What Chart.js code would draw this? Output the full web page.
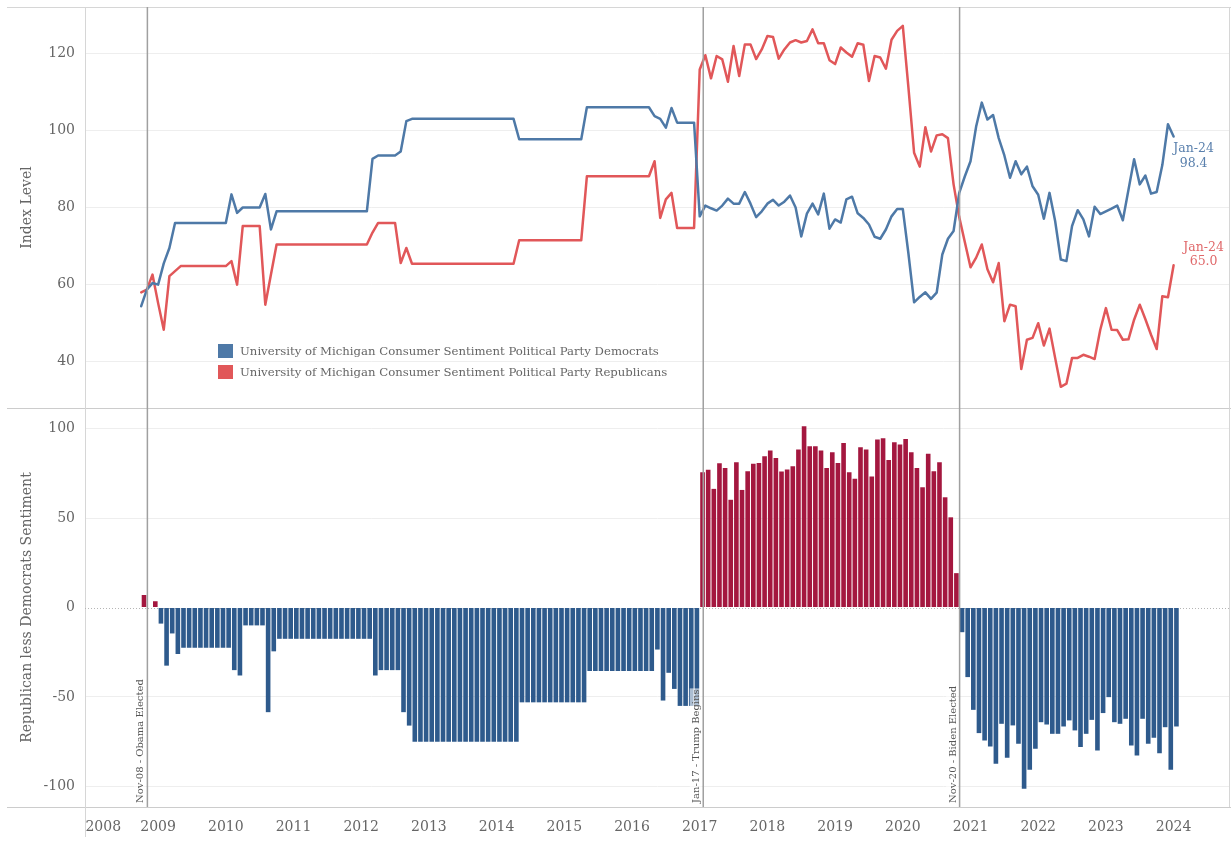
<!DOCTYPE html>
<html>
<head>
<meta charset="utf-8">
<title>Consumer Sentiment by Political Party</title>
<script src="https://cdn.jsdelivr.net/npm/chart.js@4.4.1/dist/chart.umd.min.js"></script>
<style>
  html, body { margin: 0; padding: 0; background: #fff; }
  #wrap { position: relative; width: 1231px; height: 841px; overflow: hidden; }
  #wrap canvas { position: absolute; left: 0; }
  #topChart { top: 0; }
  #bottomChart { top: 400px; }
</style>
</head>
<body>
<div id="wrap">
  <canvas id="topChart" width="1231" height="420"></canvas>
  <canvas id="bottomChart" width="1231" height="441"></canvas>
</div>
<script>
// Monthly series, first month is Oct-08, last month is Jan-24
var firstYear = 2008;
var firstMonth = 10;

// University of Michigan sentiment, Democrats (index level)
var democrats = [
  54.4, 58.7, 60.4, // 2008 Oct-Dec
  60, 65.5, 69.5, 76, 76, 76, 76, 76, 76, 76, 76, 76, // 2009
  76, 83.4, 78.6, 80, 80, 80, 80, 83.5, 74.3, 79, 79, 79, // 2010
  79, 79, 79, 79, 79, 79, 79, 79, 79, 79, 79, 79, // 2011
  79, 79, 92.6, 93.5, 93.5, 93.5, 93.5, 94.5, 102.4, 103, 103, 103, // 2012
  103, 103, 103, 103, 103, 103, 103, 103, 103, 103, 103, 103, // 2013
  103, 103, 103, 103, 97.7, 97.7, 97.7, 97.7, 97.7, 97.7, 97.7, 97.7, // 2014
  97.7, 97.7, 97.7, 97.7, 106, 106, 106, 106, 106, 106, 106, 106, // 2015
  106, 106, 106, 106, 103.7, 103, 100.7, 105.8, 102, 102, 102, 102, // 2016
  77.7, 80.5, 79.8, 79.2, 80.5, 82.3, 81, 81, 84, 81, 77.5, 79, // 2017
  81, 82, 80.5, 81.5, 83.1, 80, 72.5, 78.4, 81, 78.2, 83.6, 74.5, // 2018
  76.9, 76.1, 82.1, 82.8, 78.5, 77.3, 75.6, 72.4, 71.9, 74.3, 77.7, 79.6, // 2019
  79.6, 68, 55.4, 56.8, 58, 56.3, 57.9, 67.8, 71.9, 73.9, 83.8, 88.1, // 2020
  92, 101, 107.2, 102.8, 104, 98, 93.5, 87.7, 92, 88.6, 90.6, 85.5, // 2021
  83.3, 77.1, 83.8, 76.5, 66.5, 66.1, 75.2, 79.3, 76.9, 72.5, 80.2, 78.3, // 2022
  79, 79.7, 80.5, 76.7, 84.6, 92.5, 86, 88.3, 83.6, 84, 91, 101.6, // 2023
  98.4 // 2024 Jan
];

// University of Michigan sentiment, Republicans (index level)
var republicans = [
  58, 58.7, 62.6, // 2008 Oct-Dec
  55.2, 48.3, 62.2, 63.5, 64.8, 64.8, 64.8, 64.8, 64.8, 64.8, 64.8, 64.8, // 2009
  64.8, 66.1, 60, 75.2, 75.2, 75.2, 75.2, 54.8, 62.6, 70.4, 70.4, 70.4, // 2010
  70.4, 70.4, 70.4, 70.4, 70.4, 70.4, 70.4, 70.4, 70.4, 70.4, 70.4, 70.4, // 2011
  70.4, 70.4, 73.5, 76, 76, 76, 76, 65.6, 69.5, 65.4, 65.4, 65.4, // 2012
  65.4, 65.4, 65.4, 65.4, 65.4, 65.4, 65.4, 65.4, 65.4, 65.4, 65.4, 65.4, // 2013
  65.4, 65.4, 65.4, 65.4, 71.5, 71.5, 71.5, 71.5, 71.5, 71.5, 71.5, 71.5, // 2014
  71.5, 71.5, 71.5, 71.5, 88.1, 88.1, 88.1, 88.1, 88.1, 88.1, 88.1, 88.1, // 2015
  88.1, 88.1, 88.1, 88.1, 92, 77.3, 82.1, 83.8, 74.7, 74.7, 74.7, 74.7, // 2016
  115.8, 119.5, 113.5, 119.3, 118.4, 112.6, 121.9, 114.1, 122.3, 122.3, 118.5, 121, // 2017
  124.5, 124.2, 118.6, 121, 122.8, 123.4, 122.8, 123.2, 126.2, 122.6, 122.6, 118.2, // 2018
  117.2, 121.5, 120.2, 119.1, 122.6, 122.2, 112.8, 119.3, 118.9, 116, 123.5, 125.8, // 2019
  127.1, 111, 94.2, 90.6, 100.8, 94.5, 98.7, 99, 98, 86, 77.5, 71, // 2020
  64.5, 67, 70.4, 64, 60.6, 65.6, 50.5, 54.8, 54.4, 38.1, 45.7, 46.2, // 2021
  50, 44.2, 48.6, 41, 33.5, 34.3, 41, 41, 41.8, 41.3, 40.7, 48.3, // 2022
  53.9, 48.3, 48.2, 45.7, 45.8, 50.9, 54.8, 51, 47, 43.3, 57, 56.7, // 2023
  65 // 2024 Jan
];

// Republican less Democrats sentiment (bars)
var spread = [
  7, 0, 3.5, // 2008 Oct-Dec
  -9, -32.5, -14.5, -26, -22.5, -22.5, -22.5, -22.5, -22.5, -22.5, -22.5, -22.5, // 2009
  -22.5, -35, -38, -10, -10, -10, -10, -58.5, -24.5, -17.5, -17.5, -17.5, // 2010
  -17.5, -17.5, -17.5, -17.5, -17.5, -17.5, -17.5, -17.5, -17.5, -17.5, -17.5, -17.5, // 2011
  -17.5, -17.5, -38, -35, -35, -35, -35, -58.5, -66, -75, -75, -75, // 2012
  -75, -75, -75, -75, -75, -75, -75, -75, -75, -75, -75, -75, // 2013
  -75, -75, -75, -75, -53, -53, -53, -53, -53, -53, -53, -53, // 2014
  -53, -53, -53, -53, -35.5, -35.5, -35.5, -35.5, -35.5, -35.5, -35.5, -35.5, // 2015
  -35.5, -35.5, -35.5, -35.5, -23.5, -52, -36.5, -45.5, -55, -55, -55, -55, // 2016
  75.6, 77, 66.3, 80.6, 78, 60.2, 81.2, 65.7, 76.2, 80.3, 80.8, 84.5, // 2017
  87.7, 83.6, 76, 77.1, 78.9, 88.3, 101.3, 90.1, 90.1, 87.7, 78, 86.8, // 2018
  80.8, 92, 75.6, 71.9, 89.6, 88.3, 73.2, 93.9, 94.6, 82.5, 92.4, 91.1, // 2019
  94.2, 86.8, 78, 67.2, 85.9, 76.2, 81.2, 61.6, 50.4, 19.2, -13.8, -38.9, // 2020
  -57.2, -70.2, -74.3, -77.7, -87.3, -65, -84, -65.9, -76.2, -101.3, -90.7, -78.9, // 2021
  -64.1, -65.4, -70.6, -70.6, -66.5, -63.1, -68.7, -78, -70.6, -62.8, -79.9, -59, // 2022
  -50.1, -64.1, -65, -62.2, -77.1, -82.7, -62.2, -76.2, -72.8, -81.4, -66.9, -90.7, // 2023
  -66.5 // 2024 Jan
];

var yearTicks = [2008, 2009, 2010, 2011, 2012, 2013, 2014, 2015, 2016, 2017, 2018, 2019, 2020, 2021, 2022, 2023, 2024];
var eventDates = ['2008-11-04', '2017-01-20', '2020-11-03'];
var eventLabels = ['Nov-08 - Obama Elected', 'Jan-17 - Trump Begins', 'Nov-20 - Biden Elected'];
var seriesNames = [
  'University of Michigan Consumer Sentiment Political Party Democrats',
  'University of Michigan Consumer Sentiment Political Party Republicans'
];
var monthNames = ['Jan', 'Feb', 'Mar', 'Apr', 'May', 'Jun', 'Jul', 'Aug', 'Sep', 'Oct', 'Nov', 'Dec'];

// colours (Tableau look)
var blueLine = '#4e79a7';
var redLine = '#e15759';
var blueBar = '#2e5a8c';
var redBar = '#a4173f';
var textGrey = '#666666';
var frameGrey = '#d6d6d6';
var eventGrey = '#a0a0a0';
var fontFamily = "'DejaVu Serif', serif";

// shared x range in fractional years
var xMin = 2007.92;
var xMax = 2024.833;

Chart.defaults.font.family = fontFamily;
Chart.defaults.color = textGrey;

function monthTime(i) {
  return firstYear + (firstMonth - 1 + i) / 12;
}

function dateTime(s) {
  var p = s.split('-');
  var y = +p[0];
  var start = Date.UTC(y, 0, 1);
  var end = Date.UTC(y + 1, 0, 1);
  return y + (Date.UTC(y, +p[1] - 1, +p[2]) - start) / (end - start);
}

function monthLabel(i) {
  var m = firstMonth - 1 + i;
  return monthNames[m % 12] + '-' + String(firstYear + Math.floor(m / 12)).slice(2);
}

function hLine(ctx, y, x1, x2, color) {
  ctx.beginPath();
  ctx.strokeStyle = color;
  ctx.lineWidth = 1;
  ctx.moveTo(x1, Math.round(y) + 0.5);
  ctx.lineTo(x2, Math.round(y) + 0.5);
  ctx.stroke();
}

function vLine(ctx, x, y1, y2, color, width) {
  ctx.beginPath();
  ctx.strokeStyle = color;
  ctx.lineWidth = width || 1;
  ctx.moveTo(x, y1);
  ctx.lineTo(x, y2);
  ctx.stroke();
}

// the vertical axis keeps exactly the reference width and no label overhang
function fixVertical(s) {
  s.width = 85;
  s.paddingTop = 0;
  s.paddingBottom = 0;
}

function drawEvents(chart, withLabels) {
  var ctx = chart.ctx;
  var area = chart.chartArea;
  var xs = chart.scales.x;
  ctx.save();
  eventDates.forEach(function (d, i) {
    var x = xs.getPixelForValue(dateTime(d));
    vLine(ctx, x, area.top, area.bottom, eventGrey, 1.5);
    if (!withLabels) return;
    ctx.save();
    ctx.font = '10px ' + fontFamily;
    var w = ctx.measureText(eventLabels[i]).width;
    ctx.translate(x - 1.5, area.bottom - 4);
    ctx.rotate(-Math.PI / 2);
    ctx.fillStyle = 'rgba(255,255,255,0.6)';
    ctx.fillRect(-1, -12, w + 2, 12);
    ctx.fillStyle = '#555555';
    ctx.textAlign = 'left';
    ctx.textBaseline = 'bottom';
    ctx.fillText(eventLabels[i], 0, 0);
    ctx.restore();
  });
  ctx.restore();
}

// frame, legend, end labels and events for the index panel
var topDecor = {
  id: 'topDecor',
  beforeDatasetsDraw: function (chart) {
    var ctx = chart.ctx;
    var a = chart.chartArea;
    ctx.save();
    hLine(ctx, a.top, 7, chart.width, frameGrey);
    hLine(ctx, a.bottom, 7, chart.width, '#cccccc');
    vLine(ctx, Math.round(a.left) + 0.5, a.top, a.bottom, frameGrey);
    vLine(ctx, Math.round(a.right) - 0.5, a.top, a.bottom, frameGrey);
    ctx.restore();
  },
  afterDatasetsDraw: function (chart) {
    var ctx = chart.ctx;
    var a = chart.chartArea;
    drawEvents(chart, false);
    ctx.save();
    // legend
    ctx.fillStyle = blueLine;
    ctx.fillRect(a.left + 133, a.top + 337, 15, 14);
    ctx.fillStyle = redLine;
    ctx.fillRect(a.left + 133, a.top + 358, 15, 14);
    ctx.font = '11.7px ' + fontFamily;
    ctx.fillStyle = textGrey;
    ctx.textAlign = 'left';
    ctx.textBaseline = 'middle';
    ctx.fillText(seriesNames[0], a.left + 155, a.top + 344.5);
    ctx.fillText(seriesNames[1], a.left + 155, a.top + 365.5);
    // end labels
    var last = democrats.length - 1;
    var pb = chart.getDatasetMeta(0).data[last];
    var pr = chart.getDatasetMeta(1).data[last];
    ctx.textAlign = 'center';
    ctx.font = '12.5px ' + fontFamily;
    ctx.fillStyle = '#5a80ad';
    ctx.fillText(monthLabel(last), pb.x + 20, pb.y + 12.5);
    ctx.fillText(democrats[last].toFixed(1), pb.x + 20, pb.y + 27.5);
    ctx.fillStyle = '#e0686a';
    ctx.fillText(monthLabel(last), pr.x + 30, pr.y - 18);
    ctx.fillText(republicans[last].toFixed(1), pr.x + 30, pr.y - 4);
    ctx.restore();
  }
};

// frame, zero line and events for the spread panel
var bottomDecor = {
  id: 'bottomDecor',
  beforeDatasetsDraw: function (chart) {
    var ctx = chart.ctx;
    var a = chart.chartArea;
    ctx.save();
    hLine(ctx, a.bottom, 7, chart.width, '#cccccc');
    vLine(ctx, Math.round(a.left) + 0.5, a.top, a.bottom + 30, frameGrey);
    vLine(ctx, Math.round(a.right) - 0.5, a.top, a.bottom, frameGrey);
    var y0 = Math.round(chart.scales.y.getPixelForValue(0)) + 0.5;
    ctx.setLineDash([1, 2]);
    ctx.beginPath();
    ctx.strokeStyle = '#b5b5b5';
    ctx.lineWidth = 1;
    ctx.moveTo(a.left, y0);
    ctx.lineTo(a.right, y0);
    ctx.stroke();
    ctx.restore();
  },
  afterDatasetsDraw: function (chart) {
    drawEvents(chart, true);
  }
};

function lineSet(label, values, color) {
  return {
    label: label,
    data: values.map(function (v, i) { return { x: monthTime(i), y: v }; }),
    borderColor: color,
    backgroundColor: color,
    borderWidth: 2.5,
    borderJoinStyle: 'round',
    borderCapStyle: 'round',
    pointRadius: 0,
    tension: 0
  };
}

new Chart(document.getElementById('topChart'), {
  type: 'line',
  data: {
    datasets: [
      lineSet(seriesNames[0], democrats, blueLine),
      lineSet(seriesNames[1], republicans, redLine)
    ]
  },
  options: {
    responsive: false,
    animation: false,
    devicePixelRatio: 1,
    layout: { padding: { top: 7, bottom: 12, left: 0, right: 1 } },
    plugins: { legend: { display: false }, tooltip: { enabled: false } },
    scales: {
      x: { type: 'linear', display: false, min: xMin, max: xMax, offset: false },
      y: {
        min: 28,
        max: 132,
        afterFit: fixVertical,
        grid: { color: '#eeeeee', drawTicks: false },
        border: { display: false },
        ticks: { stepSize: 20, includeBounds: false, padding: 10, font: { size: 14 }, color: textGrey },
        title: { display: true, text: 'Index Level', font: { size: 14 }, color: textGrey, padding: { top: 18.5, bottom: 0 } }
      }
    }
  },
  plugins: [topDecor]
});

new Chart(document.getElementById('bottomChart'), {
  type: 'bar',
  data: {
    datasets: [{
      label: 'Republican less Democrats Sentiment',
      data: spread.map(function (v, i) { return { x: monthTime(i) + 0.5 / 12, y: v }; }),
      backgroundColor: function (c) { return c.raw && c.raw.y >= 0 ? redBar : blueBar; },
      borderWidth: 0,
      barPercentage: 0.82,
      categoryPercentage: 1
    }]
  },
  options: {
    responsive: false,
    animation: false,
    devicePixelRatio: 1,
    layout: { padding: { top: 8, bottom: 0, left: 0, right: 1 } },
    plugins: { legend: { display: false }, tooltip: { enabled: false } },
    scales: {
      x: {
        type: 'linear',
        min: xMin,
        max: xMax,
        offset: false,
        grid: { display: false, offset: false },
        border: { display: false },
        afterFit: function (s) {
          s.height = 34;
          s.paddingLeft = 0;
          s.paddingRight = 0;
        },
        afterBuildTicks: function (s) {
          s.ticks = yearTicks.map(function (y) { return { value: Math.max(y, s.min + 0.27) }; });
        },
        ticks: {
          autoSkip: false,
          maxRotation: 0,
          padding: 4,
          font: { size: 14 },
          color: textGrey,
          callback: function (value, index) { return String(yearTicks[index]); }
        }
      },
      y: {
        min: -111.5,
        max: 111.5,
        afterFit: fixVertical,
        grid: {
          drawTicks: false,
          color: function (c) { return c.tick && c.tick.value === 0 ? 'rgba(0,0,0,0)' : '#eeeeee'; }
        },
        border: { display: false },
        ticks: { stepSize: 50, includeBounds: false, padding: 10, font: { size: 14 }, color: textGrey },
        title: { display: true, text: 'Republican less Democrats Sentiment', font: { size: 14 }, color: textGrey, padding: { top: 18.5, bottom: 0 } }
      }
    }
  },
  plugins: [bottomDecor]
});
</script>
</body>
</html>
